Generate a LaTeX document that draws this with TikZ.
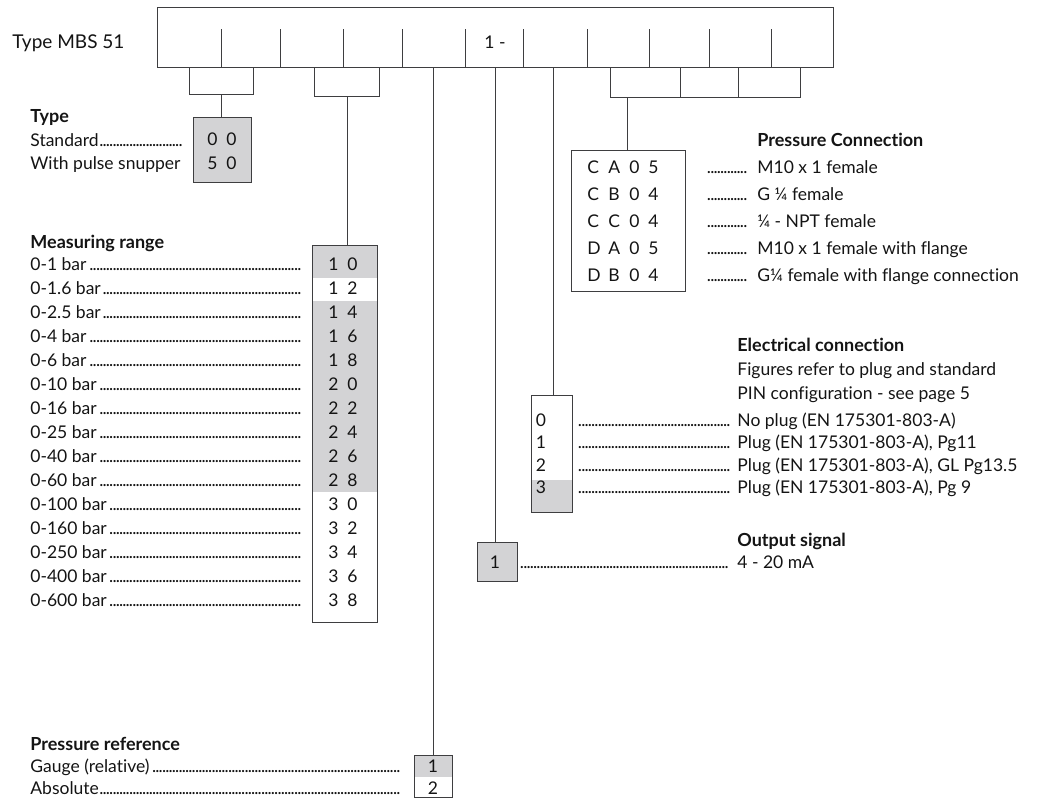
\documentclass[tikz,border=0pt]{standalone}
\usepackage{fontspec}
\setmainfont{Lato}[Ligatures=NoCommon]
\usetikzlibrary{positioning}
\definecolor{boxgray}{RGB}{211,211,213}
\definecolor{rulegray}{RGB}{62,62,64}
\newcommand{\leaderdots}{\leaders\hbox to 3.3pt{\hss.\hss}\hfill}
\newcommand{\dotline}[2]{\makebox[#1][l]{#2\leaderdots}}
\newcommand{\pair}[2]{#1\hspace{9pt}#2}

\begin{document}
\begin{tikzpicture}[x=1pt,y=-1pt,line width=0.8pt,
  every node/.style={inner sep=0pt,text=black!92},
  txt/.style={anchor=base west,font=\fontsize{17.5}{20}\selectfont},
  code/.style={anchor=base,font=\fontsize{17.5}{20}\selectfont},
  head/.style={anchor=base west,font=\fontsize{18}{20}\selectfont\bfseries},
  box/.style={draw=rulegray,anchor=north west}]
\useasboundingbox (0,0) rectangle (1049,798);

% order code header
\node[anchor=base west,font=\fontsize{19}{24}\selectfont] (title) at (12,48) {Type MBS 51};
\node[box,minimum width=676,minimum height=60] (header) at (157,7) {};
\foreach \x in {221,280,343,402,465,523,587,649,709,771} \draw[rulegray] (\x,29) -- (\x,67);
\node[code] (fixed) at (495,48) {1 -};

% brackets under the header
\draw[rulegray] (189,67) -- (189,94) -- (253,94) -- (253,67);
\draw[rulegray] (314,67) -- (314,96) -- (379,96) -- (379,67);
\draw[rulegray] (610,67) -- (610,97) -- (800,97) -- (800,67);
\foreach \x in {680,738} \draw[rulegray] (\x,67) -- (\x,97);
\coordinate (typeknee) at (221,94);
\coordinate (rangeknee) at (347,96);
\coordinate (connknee) at (627,97);
\coordinate (reftop) at (433,67);
\coordinate (signaltop) at (495,67);
\coordinate (electop) at (553,67);

% type
\node[head] (typehead) at (30,122) {Type};
\node[txt] (typestd) at (30,146) {\dotline{152pt}{Standard}};
\node[txt] (typepulse) at (30,169) {With pulse snupper};
\node[box,fill=boxgray,minimum width=58,minimum height=65] (typebox) at (193,117) {};
\node[code] (type00) at (222,145) {\pair{0}{0}};
\node[code] (type50) at (222,169) {\pair{5}{0}};
\draw[rulegray] (typeknee) -- (typeknee |- typebox.north);

% measuring range
\node[head] (rangehead) at (30,248) {Measuring range};
\fill[boxgray] (312,245) rectangle (377,278);
\fill[boxgray] (312,301) rectangle (377,492);
\node[box,minimum width=65,minimum height=377] (rangebox) at (312,245) {};
\foreach \r/\a/\b [count=\i from 0] in {0-1 bar/1/0,0-1.6 bar/1/2,0-2.5 bar/1/4,0-4 bar/1/6,0-6 bar/1/8,0-10 bar/2/0,0-16 bar/2/2,0-25 bar/2/4,0-40 bar/2/6,0-60 bar/2/8,0-100 bar/3/0,0-160 bar/3/2,0-250 bar/3/4,0-400 bar/3/6,0-600 bar/3/8}
{
  \node[txt] (range\i) at (30,{270+24*\i}) {\dotline{271pt}{\r}};
  \node[code] (rangecode\i) at (343,{270+24*\i}) {\pair{\a}{\b}};
}
\draw[rulegray] (rangeknee) -- (rangeknee |- rangebox.north);

% pressure reference
\node[head] (refhead) at (30,750) {Pressure reference};
\node[txt] (refgauge) at (30,772) {\dotline{372pt}{Gauge (relative)}};
\node[txt] (refabs) at (30,794) {\dotline{372pt}{Absolute}};
\fill[boxgray] (414,755) rectangle (452,777);
\node[box,minimum width=38,minimum height=42] (refbox) at (414,755) {};
\node[code] (ref1) at (433,772) {1};
\node[code] (ref2) at (433,794) {2};
\draw[rulegray] (reftop) -- (reftop |- refbox.north);

% output signal
\node[box,fill=boxgray,minimum width=40,minimum height=39] (signalbox) at (477,542) {};
\node[code] (signal1) at (495,568) {1};
\node[txt] (signaldots) at (520,568) {\dotline{210pt}{}};
\node[head] (signalhead) at (737,546) {Output signal};
\node[txt] (signaltext) at (737,568) {4 - 20 mA};
\draw[rulegray] (signaltop) -- (signaltop |- signalbox.north);

% electrical connection
\node[head] (elechead) at (737,351) {Electrical connection};
\node[txt] (elecnote1) at (737,375) {Figures refer to plug and standard};
\node[txt] (elecnote2) at (737,399) {PIN configuration - see page 5};
\fill[boxgray] (531,480) rectangle (572,512);
\node[box,minimum width=41,minimum height=117] (elecbox) at (531,395) {};
\foreach \c/\d [count=\i from 0] in {0/{No plug (EN 175301-803-A)},1/{Plug (EN 175301-803-A), Pg11},2/{Plug (EN 175301-803-A), GL Pg13.5},3/{Plug (EN 175301-803-A), Pg 9}}
{
  \node[code] (eleccode\i) at (541,{426+22.5*\i}) {\c};
  \node[txt] (elecdots\i) at (578,{426+22.5*\i}) {\dotline{152pt}{}};
  \node[txt] (elecdesc\i) at (737,{426+22.5*\i}) {\d};
}
\draw[rulegray] (electop) -- (electop |- elecbox.north);

% pressure connection
\node[head] (connhead) at (757,146) {Pressure Connection};
\node[box,minimum width=114,minimum height=141] (connbox) at (571,150) {};
\foreach \p/\q/\r/\s/\d [count=\i from 0] in {C/A/0/5/{M10 x 1 female},C/B/0/4/{G ¼ female},C/C/0/4/{¼ - NPT female},D/A/0/5/{M10 x 1 female with flange},D/B/0/4/{G¼ female with flange connection}}
{
  \node[txt] (conncode\i) at (587,{173+27*\i}) {\makebox[21pt][l]{\p}\makebox[21pt][l]{\q}\makebox[19pt][l]{\r}\s};
  \node[txt] (conndots\i) at (707,{173+27*\i}) {\dotline{41pt}{}};
  \node[txt] (conndesc\i) at (757,{173+27*\i}) {\d};
}
\draw[rulegray] (connknee) -- (connknee |- connbox.north);
\end{tikzpicture}
\end{document}
